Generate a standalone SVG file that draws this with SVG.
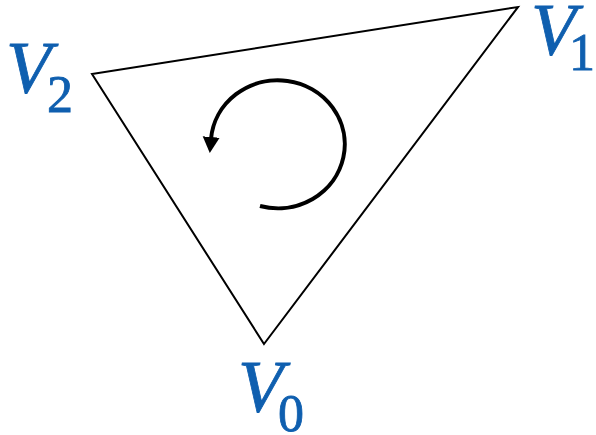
<svg xmlns="http://www.w3.org/2000/svg" width="596" height="435" viewBox="0 0 596 435">
<style>
.edge{fill:none;stroke:#000;stroke-width:2;stroke-linejoin:miter}
.rot{fill:none;stroke:#000;stroke-width:4}
.lbl{fill:#0F5FAF;stroke:#0F5FAF;stroke-width:0.8;font-family:"Liberation Serif","DejaVu Serif",serif}
.v{font-style:italic;font-size:74px}
.sub{font-size:52px}
</style>
<defs>
<marker id="ah" markerUnits="userSpaceOnUse" markerWidth="18" markerHeight="18" refX="2" refY="8.5" orient="auto">
<path d="M0,0 L16,8.5 L0,17 Z" fill="#000"/>
</marker>
</defs>
<rect width="596" height="435" fill="#fff"/>
<g id="connectors">
<path class="edge" d="M264,344 L518,7 L92,74 Z"/>
<path class="rot" d="M260,206 A67,64 0 1 0 211,139" marker-end="url(#ah)"/>
</g>
<g id="V0"><text class="lbl"><tspan class="v" x="238" y="412">V</tspan><tspan class="sub" x="278" y="431">0</tspan></text></g>
<g id="V1"><text class="lbl"><tspan class="v" x="531" y="55">V</tspan><tspan class="sub" x="569" y="70">1</tspan></text></g>
<g id="V2"><text class="lbl"><tspan class="v" x="6" y="93">V</tspan><tspan class="sub" x="47" y="112">2</tspan></text></g>
</svg>
